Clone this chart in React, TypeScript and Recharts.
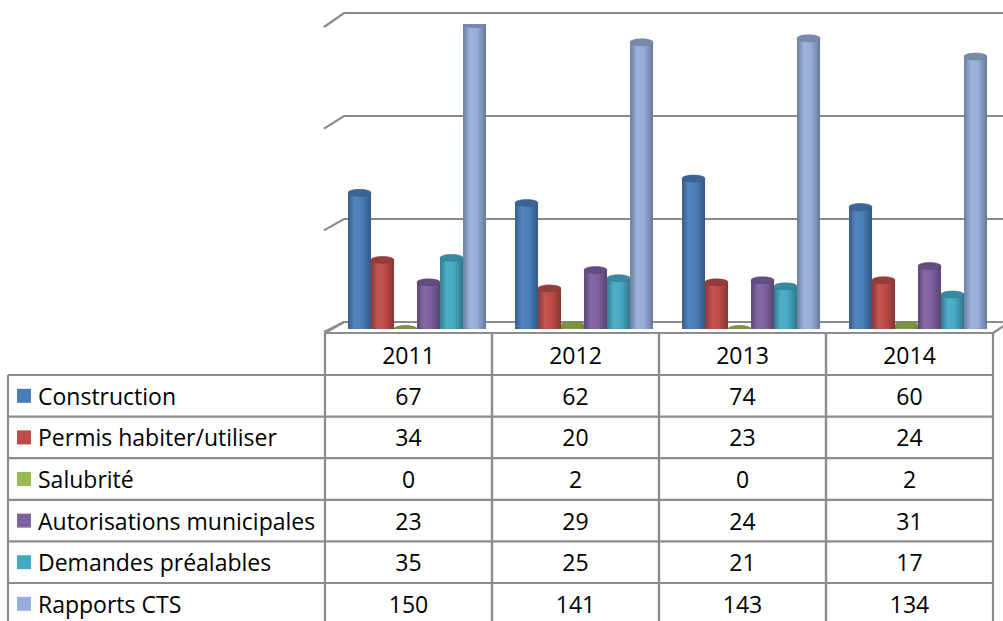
import React from 'react';
import { BarChart, Bar, XAxis, YAxis, CartesianGrid } from 'recharts';

const years = ['2011', '2012', '2013', '2014'];
const seriesNames = [
  'Construction',
  'Permis habiter/utiliser',
  'Salubrité',
  'Autorisations municipales',
  'Demandes préalables',
  'Rapports CTS',
];
const construction = [67, 62, 74, 60];
const permis = [34, 20, 23, 24];
const salubrite = [0, 2, 0, 2];
const autorisations = [23, 29, 24, 31];
const demandes = [35, 25, 21, 17];
const rapports = [150, 141, 143, 134];
const valueTicks = [0, 50, 100, 150];

const seriesKeys = ['construction', 'permis', 'salubrite', 'autorisations', 'demandes', 'rapports'];
const seriesValues = [construction, permis, salubrite, autorisations, demandes, rapports];
const seriesColors = ['#4A7EBB', '#BE4B48', '#98B954', '#7D60A0', '#46AAC5', '#96AEDA'];

const data = years.map((year, i) => {
  const row: Record<string, any> = { year };
  seriesKeys.forEach((k, s) => {
    row[k] = seriesValues[s][i];
  });
  return row;
});

// layout
const W = 1003;
const H = 621;
const PLOT_LEFT = 325;
const PLOT_RIGHT = 993;
const PLOT_TOP = 24;
const ZERO_Y = 329;
const DX = 8;
const FONT = '"Open Sans", "Noto Sans", sans-serif';
const FONT_SIZE = 23;
const LINE = '#8c8c8c';
const GRID = '#8a8a8a';
const TABLE_TOP = 333;
const HEADER_BOTTOM = 375;
const ROW_H = 41.6;
const COL_W = (PLOT_RIGHT - PLOT_LEFT) / years.length;
const TABLE_LEFT = 8;
const TABLE_BOTTOM = 640;

function shade(hex: string, k: number) {
  const n = parseInt(hex.slice(1), 16);
  const f = (c: number) => {
    const v = k < 1 ? c * k : c + (255 - c) * (k - 1);
    return Math.max(0, Math.min(255, Math.round(v)));
  };
  const r = f((n >> 16) & 255);
  const g = f((n >> 8) & 255);
  const b = f(n & 255);
  return `rgb(${r},${g},${b})`;
}

const makeCylinder = (si: number) => (props: any) => {
  const { x, y, width, height } = props;
  if (x == null || isNaN(x)) return <g />;
  const w = width;
  const rx = w / 2;
  const ry = Math.max(2.5, w * 0.15);
  const cx = x + DX + rx;
  const left = x + DX;
  const right = left + w;
  const yb = y + (height || 0);
  const yt = y;
  const color = seriesColors[si];
  const h = yb - yt;
  return (
    <g>
      {h > 0.5 ? (
        <path
          d={`M ${left} ${yt} L ${left} ${yb} A ${rx} ${ry} 0 0 0 ${right} ${yb} L ${right} ${yt} Z`}
          fill={`url(#cyl${si})`}
        />
      ) : (
        <ellipse cx={cx} cy={yb} rx={rx} ry={ry} fill={shade(color, 0.85)} />
      )}
      <ellipse cx={cx} cy={yt} rx={rx} ry={ry} fill={shade(color, 0.8)} stroke={shade(color, 0.7)} strokeWidth={0.6} />
    </g>
  );
};

const GridLine = (p: any) => {
  const y = p.y1 ?? p.y;
  const f = (ZERO_Y - y) / (ZERO_Y - PLOT_TOP);
  const fy = 332 - f * 305;
  const by = 322 - f * 309;
  return (
    <polyline
      key={p.key}
      points={`324,${fy} 344,${by} ${W + 10},${by}`}
      fill="none"
      stroke={GRID}
      strokeWidth={2.2}
    />
  );
};

const rowTop = (r: number) => HEADER_BOTTOM + r * ROW_H;

const TableColumn = (props: any) => {
  const { x, payload, index } = props;
  const cx = x;
  const l = cx - COL_W / 2;
  const r = cx + COL_W / 2;
  const idx = payload?.index ?? index;
  const els: React.ReactNode[] = [];
  els.push(<line key="t" x1={l} y1={TABLE_TOP} x2={r} y2={TABLE_TOP} stroke={LINE} strokeWidth={2.2} />);
  els.push(<line key="vl" x1={l} y1={TABLE_TOP} x2={l} y2={TABLE_BOTTOM} stroke={LINE} strokeWidth={2.2} />);
  els.push(<line key="vr" x1={r} y1={TABLE_TOP} x2={r} y2={TABLE_BOTTOM} stroke={LINE} strokeWidth={2.2} />);
  els.push(
    <text key="h" x={cx} y={(TABLE_TOP + HEADER_BOTTOM) / 2 + 1} textAnchor="middle" dominantBaseline="central"
      fontFamily={FONT} fontSize={FONT_SIZE} fill="#000">
      {payload.value}
    </text>
  );
  seriesValues.forEach((vals, s) => {
    const top = rowTop(s);
    els.push(<line key={`r${s}`} x1={l} y1={top} x2={r} y2={top} stroke={LINE} strokeWidth={2.2} />);
    els.push(
      <text key={`v${s}`} x={cx} y={top + ROW_H / 2} textAnchor="middle" dominantBaseline="central"
        fontFamily={FONT} fontSize={FONT_SIZE} fill="#000">
        {vals[idx]}
      </text>
    );
  });
  if (idx === 0) {
    els.push(<line key="lv" x1={TABLE_LEFT} y1={HEADER_BOTTOM} x2={TABLE_LEFT} y2={TABLE_BOTTOM} stroke={LINE} strokeWidth={2.2} />);
    els.push(<line key="fd" x1={l} y1={TABLE_TOP} x2={l + 19} y2={322} stroke={LINE} strokeWidth={2.2} />);
    seriesNames.forEach((name, s) => {
      const top = rowTop(s);
      els.push(<line key={`lr${s}`} x1={TABLE_LEFT} y1={top} x2={l} y2={top} stroke={LINE} strokeWidth={2.2} />);
      els.push(<rect key={`sw${s}`} x={17} y={top + ROW_H / 2 - 7} width={14} height={14} fill={seriesColors[s]} />);
      els.push(
        <text key={`n${s}`} x={38} y={top + ROW_H / 2} dominantBaseline="central"
          fontFamily={FONT} fontSize={FONT_SIZE} fill="#000">
          {name}
        </text>
      );
    });
  }
  if (idx === years.length - 1) {
    els.push(<line key="rd" x1={r} y1={TABLE_TOP} x2={r + 12} y2={TABLE_TOP - 8} stroke={LINE} strokeWidth={2.2} />);
  }
  return <g>{els}</g>;
};

export default function App() {
  return (
    <div style={{ position: 'absolute', left: 0, top: 0, width: W, height: H, background: '#fff', overflow: 'hidden' }}>
      <BarChart
        width={W}
        height={H}
        data={data}
        margin={{ top: PLOT_TOP, right: W - PLOT_RIGHT, bottom: 0, left: PLOT_LEFT }}
        barCategoryGap="9%"
        barGap={0}
      >
        <defs>
          {seriesColors.map((c, i) => (
            <linearGradient key={i} id={`cyl${i}`} x1="0" y1="0" x2="1" y2="0">
              <stop offset="0%" stopColor={shade(c, 0.72)} />
              <stop offset="30%" stopColor={shade(c, 1.06)} />
              <stop offset="60%" stopColor={shade(c, 1.0)} />
              <stop offset="100%" stopColor={shade(c, 0.7)} />
            </linearGradient>
          ))}
        </defs>
        <CartesianGrid vertical={false} horizontal={GridLine as any} />
        <YAxis hide domain={[0, 150]} ticks={valueTicks} allowDataOverflow />
        <XAxis
          dataKey="year"
          height={H - ZERO_Y}
          axisLine={false}
          tickLine={false}
          interval={0}
          tick={TableColumn as any}
        />
        {seriesKeys.map((k, i) => (
          <Bar key={k} dataKey={k} name={seriesNames[i]} isAnimationActive={false} shape={makeCylinder(i) as any} />
        ))}
      </BarChart>
    </div>
  );
}
